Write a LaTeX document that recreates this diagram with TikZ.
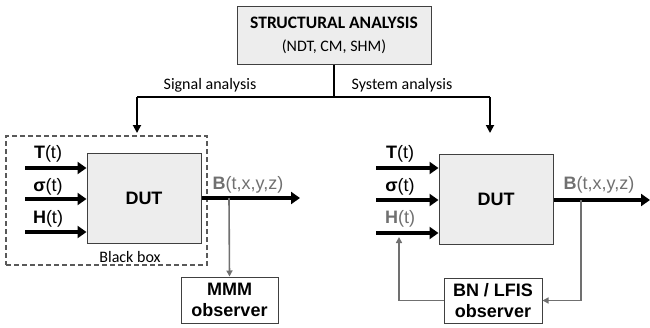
\documentclass[tikz,border=0pt]{standalone}
\usepackage{fontspec}
\setmainfont{Liberation Sans}
\newfontfamily\calfont{Carlito}
\usetikzlibrary{arrows.meta}
\definecolor{boxfill}{HTML}{EDEDED}
\definecolor{sig}{HTML}{707070}
\tikzset{
  box/.style={draw=black!75, fill=boxfill, line width=1pt, inner sep=0pt, align=center},
  plainbox/.style={draw=black!75, fill=white, line width=1pt, inner sep=0pt, align=center},
  tree/.style={line width=1.8pt, black},
  treearrow/.style={line width=1.8pt, black, -{Triangle[length=8pt,width=8pt]}},
  inarrow/.style={line width=3.6pt, black, -{Triangle[length=9pt,width=12pt]}},
  grayarrow/.style={line width=1.6pt, sig, -{Triangle[length=6pt,width=6pt]}},
  lbl/.style={font=\fontsize{18}{20}\selectfont, inner sep=0pt},
  clbl/.style={font=\calfont\fontsize{16}{18}\selectfont, inner sep=0pt},
  obsbox/.style={plainbox, font=\fontsize{18}{21}\selectfont\bfseries},
}
\begin{document}
\begin{tikzpicture}[x=1pt,y=-1pt]
\useasboundingbox (0,0) rectangle (650,327);
% top box
\node[box, minimum width=194pt, minimum height=58pt, font=\calfont\fontsize{17.5}{20}\selectfont] (sa) at (334,35)
  {\textbf{STRUCTURAL ANALYSIS}\\[3pt]{\fontsize{16}{18}\selectfont (NDT, CM, SHM)}};
\coordinate (j) at (334,97);
\coordinate (jl) at (137,97);
\coordinate (jr) at (490,97);
\coordinate (al) at (137,133);
\coordinate (ar) at (490,133);
\draw[tree] (sa.south) -- (j);
\draw[tree] (jl) -- (jr);
\draw[treearrow] (jl) -- (al);
\draw[treearrow] (jr) -- (ar);
\node[clbl] (sigl) at (210,85) {Signal analysis};
\node[clbl] (sysl) at (402,85) {System analysis};
% left black box
\node[draw=black!65, dash pattern=on 5pt off 3pt, line width=1.2pt, minimum width=201pt, minimum height=129pt, inner sep=0pt] (bb) at (106.5,200.5) {};
\node[clbl] (bbl) at (130,257) {Black box};
\node[box, minimum width=114pt, minimum height=90pt, font=\fontsize{18}{20}\selectfont\bfseries] (dutl) at (144,198) {DUT};
\coordinate (tl) at (25,168);
\coordinate (sl) at (25,199);
\coordinate (hl) at (25,232);
\draw[inarrow] (tl) -- (dutl.west |- tl);
\draw[inarrow] (sl) -- (dutl.west |- sl);
\draw[inarrow] (hl) -- (dutl.west |- hl);
\node[lbl] (tll) at (48,154) {\textbf{T}(t)};
\node[lbl] (sll) at (48,187) {\textbf{σ}(t)};
\node[lbl] (hll) at (48,219) {\textbf{H}(t)};
\coordinate (ol) at (300,198);
\draw[inarrow] (dutl.east |- ol) -- (ol);
\node[lbl, text=sig] (bl) at (248,185) {\textbf{B}(t,x,y,z)};
\node[obsbox, minimum width=97pt, minimum height=46pt] (mmm) at (229.5,300) {MMM\\observer};
\coordinate (tapl) at (229,198);
\draw[grayarrow] (tapl) -- (mmm.north);
% right
\node[box, minimum width=114pt, minimum height=90pt, font=\fontsize{18}{20}\selectfont\bfseries] (dutr) at (496,199) {DUT};
\coordinate (tr) at (376,168);
\coordinate (sr) at (376,200);
\coordinate (hr) at (376,233);
\draw[inarrow] (tr) -- (dutr.west |- tr);
\draw[inarrow] (sr) -- (dutr.west |- sr);
\draw[inarrow] (hr) -- (dutr.west |- hr);
\node[lbl] (trl) at (400,154) {\textbf{T}(t)};
\node[lbl] (srl) at (400,187) {\textbf{σ}(t)};
\node[lbl, text=sig] (hrl) at (400,219) {\textbf{H}(t)};
\coordinate (or) at (650,200);
\draw[inarrow] (dutr.east |- or) -- (or);
\node[lbl, text=sig] (br) at (599,185) {\textbf{B}(t,x,y,z)};
\node[obsbox, minimum width=98pt, minimum height=45pt] (bn) at (493,300.5) {BN / LFIS\\observer};
\coordinate (tapr) at (581,200);
\coordinate (cr) at (581,300.5);
\coordinate (cl) at (399,300.5);
\coordinate (up) at (399,237);
\draw[grayarrow] (tapr) -- (cr) -- (bn.east);
\draw[grayarrow] (bn.west) -- (cl) -- (up);
\end{tikzpicture}
\end{document}
